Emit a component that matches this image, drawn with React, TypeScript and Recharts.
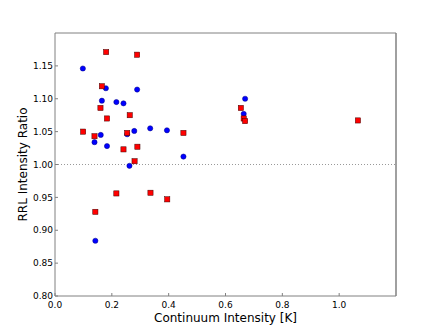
import { ScatterChart, Scatter, XAxis, YAxis, ReferenceLine } from 'recharts'

// blue circles
const blueX = [0.098, 0.179, 0.289, 0.165, 0.216, 0.241, 0.335, 0.394, 0.279, 0.161, 0.254, 0.139, 0.183, 0.452, 0.262, 0.142, 0.669, 0.664]
const blueY = [1.146, 1.116, 1.114, 1.097, 1.095, 1.093, 1.055, 1.052, 1.051, 1.045, 1.046, 1.034, 1.028, 1.012, 0.998, 0.884, 1.100, 1.077]

// red squares
const redX = [0.180, 0.289, 0.165, 0.160, 0.183, 0.263, 0.099, 0.139, 0.254, 0.452, 0.290, 0.241, 0.280, 0.142, 0.216, 0.336, 0.395, 0.654, 0.664, 0.669, 1.066]
const redY = [1.171, 1.167, 1.119, 1.086, 1.070, 1.075, 1.050, 1.043, 1.048, 1.048, 1.027, 1.023, 1.005, 0.928, 0.956, 0.957, 0.947, 1.086, 1.070, 1.066, 1.067]

const xTicks = [0, 0.2, 0.4, 0.6, 0.8, 1.0]
const yTicks = [0.8, 0.85, 0.9, 0.95, 1.0, 1.05, 1.1, 1.15]

const blueData = blueX.map((x, i) => ({ x, y: blueY[i] }))
const redData = redX.map((x, i) => ({ x, y: redY[i] }))

const FRAME = '#808080'
const tickFont = { fontSize: 9, fill: '#000', fontFamily: 'DejaVu Sans' }

const Circle = (props: any) => {
  const { cx, cy } = props
  return <circle cx={cx} cy={cy} r={2.6} fill="#0000ff" stroke="#000080" strokeWidth={0.5} />
}

const Square = (props: any) => {
  const { cx, cy } = props
  return <rect x={cx - 2.6} y={cy - 2.6} width={5.2} height={5.2} fill="#ff0000" stroke="#400000" strokeWidth={0.5} />
}

export default function App() {
  return (
    <div style={{ position: 'absolute', left: 0, top: 0, width: 440, height: 330, background: '#fff', fontFamily: 'DejaVu Sans' }}>
      <ScatterChart width={440} height={330} margin={{ top: 32, right: 43, left: 0, bottom: 0 }}>
        <XAxis
          dataKey="x"
          type="number"
          domain={[0, 1.2]}
          ticks={xTicks}
          tickFormatter={(v: number) => v.toFixed(1)}
          height={34}
          tickSize={-3}
          tickMargin={9}
          stroke={FRAME}
          tick={tickFont}
          allowDataOverflow
          label={{ value: 'Continuum Intensity [K]', position: 'insideBottom', offset: 8, style: { fontSize: 12, fill: '#000', fontFamily: 'DejaVu Sans' } }}
        />
        <XAxis
          xAxisId="top"
          dataKey="x"
          orientation="top"
          type="number"
          domain={[0, 1.2]}
          ticks={xTicks}
          height={1}
          tick={false}
          tickSize={-3}
          stroke={FRAME}
          allowDataOverflow
        />
        <YAxis
          dataKey="y"
          type="number"
          domain={[0.8, 1.2]}
          ticks={yTicks}
          tickFormatter={(v: number) => v.toFixed(2)}
          width={55}
          tickSize={-3}
          tickMargin={5}
          stroke={FRAME}
          tick={tickFont}
          allowDataOverflow
          label={{ value: 'RRL Intensity Ratio', angle: -90, position: 'insideLeft', offset: 23, style: { textAnchor: 'middle', fontSize: 12, fill: '#000', fontFamily: 'DejaVu Sans' } }}
        />
        <YAxis
          yAxisId="right"
          dataKey="y"
          orientation="right"
          type="number"
          domain={[0.8, 1.2]}
          ticks={yTicks}
          width={1}
          tick={false}
          tickSize={-3}
          stroke={FRAME}
          strokeWidth={1.5}
          allowDataOverflow
        />
        <ReferenceLine y={1} stroke="#999" strokeDasharray="1 2" />
        <Scatter data={blueData} shape={Circle} isAnimationActive={false} />
        <Scatter data={redData} xAxisId="top" yAxisId="right" shape={Square} isAnimationActive={false} />
      </ScatterChart>
    </div>
  )
}
